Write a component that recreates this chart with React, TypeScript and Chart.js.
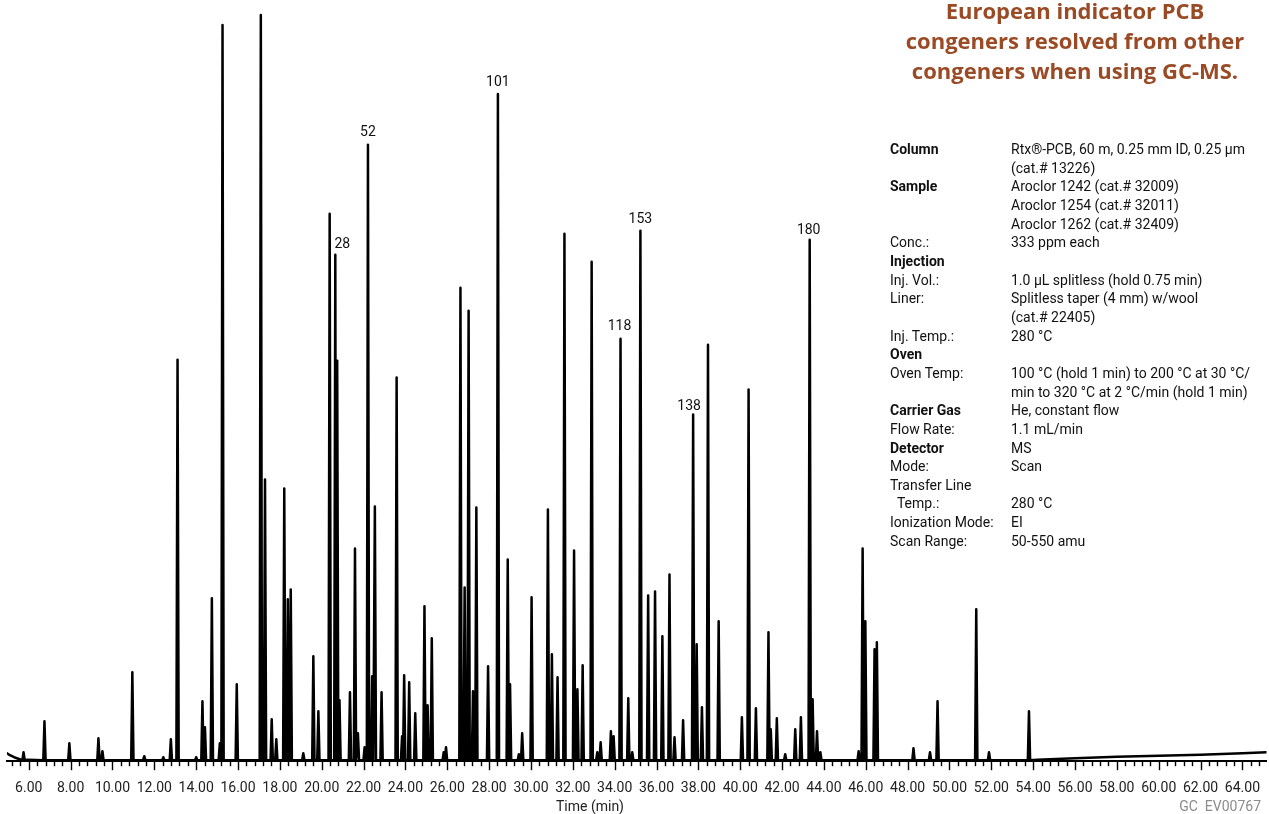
import React, { useEffect, useRef } from 'react';
import { Chart, registerables } from 'chart.js';

Chart.register(...registerables);

// Retention time (min) of each peak apex
const peakTimes = [
  5.75, 6.75, 7.94, 9.33, 9.52, 10.95, 11.52, 12.43, 12.79, 13.11, 14.0, 14.3, 14.42, 14.75, 15.13, 15.26,
  15.94, 17.09, 17.29, 17.61, 17.83, 18.21, 18.38, 18.52, 19.12, 19.6, 19.84, 20.38, 20.65, 20.74, 20.85,
  21.35, 21.59, 21.73, 22.05, 22.21, 22.41, 22.54, 22.86, 23.58, 23.84, 23.94, 24.18, 24.47, 24.91, 25.06,
  25.26, 25.83, 25.94, 26.63, 26.83, 27.02, 27.23, 27.39, 27.95, 28.42, 28.89, 29.0, 29.42, 29.58, 30.03,
  30.81, 31.0, 31.27, 31.6, 32.06, 32.22, 32.47, 32.9, 33.17, 33.33, 33.82, 33.95, 34.28, 34.65, 34.84,
  35.23, 35.6, 35.93, 36.28, 36.62, 36.86, 37.27, 37.75, 37.92, 38.17, 38.46, 38.97, 40.08, 40.4, 40.75,
  41.35, 41.46, 41.75, 42.15, 42.63, 42.9, 43.32, 43.46, 43.67, 43.83, 45.66, 45.85, 45.98, 46.42, 46.53,
  48.28, 49.07, 49.43, 51.28, 51.89, 53.8,
];
// Peak heights (detector response, arbitrary units)
const peakHeights = [
  8, 39, 17, 22, 9, 88, 4, 3, 21, 401, 3, 59, 33, 162, 17, 736,
  76, 746, 281, 41, 21, 272, 161, 171, 7, 104, 49, 547, 506, 400, 60,
  68, 212, 27, 13, 616, 84, 254, 68, 383, 24, 85, 78, 47, 154, 55,
  122, 8, 13, 473, 173, 450, 69, 253, 94, 667, 201, 76, 6, 27, 163,
  251, 106, 83, 527, 210, 71, 95, 499, 8, 18, 29, 24, 422, 62, 8,
  530, 165, 169, 124, 186, 23, 40, 346, 116, 53, 416, 139, 43, 371, 52,
  128, 31, 42, 6, 31, 43, 521, 61, 29, 8, 9, 212, 139, 111, 118,
  12, 8, 59, 151, 8, 49,
];
// Baseline drift (solvent tail at start, column bleed at end)
const baselineTimes = [4.96, 5.1, 5.3, 5.5, 5.95, 54.2, 56.0, 58.0, 60.0, 62.0, 64.0, 65.15];
const baselineLevels = [7, 5, 3, 1.5, 0.5, 0.5, 2, 3.5, 4.5, 5.5, 7, 8];

// Axis tick labels (min)
const majorTicks = [6, 8, 10, 12, 14, 16, 18, 20, 22, 24, 26, 28, 30, 32, 34, 36, 38, 40, 42, 44, 46, 48, 50, 52, 54, 56, 58, 60, 62, 64];

// Labelled congeners
const labelNames = ['28', '52', '101', '118', '153', '138', '180'];
const labelTimes = [20.65, 22.21, 28.42, 34.28, 35.23, 37.75, 43.32];

const infoLeft = [
  'Column', '', 'Sample', '', '', 'Conc.:', 'Injection', 'Inj. Vol.:', 'Liner:', '', 'Inj. Temp.:', 'Oven',
  'Oven Temp:', '', 'Carrier Gas', 'Flow Rate:', 'Detector', 'Mode:', 'Transfer Line', '\u00a0\u00a0Temp.:',
  'Ionization Mode:', 'Scan Range:',
];
const infoRight = [
  'Rtx®-PCB, 60 m, 0.25 mm ID, 0.25 µm', '(cat.# 13226)', 'Aroclor 1242 (cat.# 32009)',
  'Aroclor 1254 (cat.# 32011)', 'Aroclor 1262 (cat.# 32409)', '333 ppm each', '',
  '1.0 µL splitless (hold 0.75 min)', 'Splitless taper (4 mm) w/wool', '(cat.# 22405)', '280 °C', '',
  '100 °C (hold 1 min) to 200 °C at 30 °C/', 'min to 320 °C at 2 °C/min (hold 1 min)', 'He, constant flow',
  '1.1 mL/min', 'MS', 'Scan', '', '280 °C', 'EI', '50-550 amu',
];
const infoBold = ['Column', 'Sample', 'Injection', 'Oven', 'Carrier Gas', 'Detector'];

const labelStyle = {
  dx: [7, 0, 0, -1, 0, -4, -1],
  dy: [10, 12, 11, 12, 11, 8, 9],
};

const W = 0.055;

function buildTrace() {
  const pts: { x: number; y: number }[] = [];
  baselineTimes.forEach((t, i) => pts.push({ x: t, y: baselineLevels[i] }));
  peakTimes.forEach((t, i) => {
    pts.push({ x: t - W, y: 0 });
    pts.push({ x: t, y: peakHeights[i] });
    pts.push({ x: t + W, y: 0 });
  });
  pts.sort((a, b) => a.x - b.x);
  return pts;
}

const overlayPlugin = {
  id: 'overlay',
  afterDraw(chart: any) {
    const ctx = chart.ctx;
    const xs = chart.scales.x;
    const ys = chart.scales.y;
    const bottom = chart.chartArea.bottom;
    ctx.save();
    ctx.strokeStyle = '#000';
    ctx.lineWidth = 1.4;
    for (let k = 13; k <= 162; k++) {
      const t = k * 0.4;
      if (t < xs.min || t > xs.max) continue;
      const px = Math.round(xs.getPixelForValue(t)) + 0.5;
      const major = Math.abs(t / 2 - Math.round(t / 2)) < 1e-6;
      ctx.beginPath();
      ctx.moveTo(px, bottom);
      ctx.lineTo(px, bottom + (major ? 9 : 5));
      ctx.stroke();
    }
    ctx.font = '14px Roboto';
    ctx.fillStyle = '#111';
    ctx.textAlign = 'center';
    ctx.textBaseline = 'middle';
    labelNames.forEach((n, i) => {
      const t = labelTimes[i];
      const idx = peakTimes.indexOf(t);
      const h = peakHeights[idx];
      const px = xs.getPixelForValue(t) + labelStyle.dx[i];
      const py = ys.getPixelForValue(h) - labelStyle.dy[i];
      ctx.fillText(n, px, py);
    });
    ctx.restore();
  },
};

export default function App() {
  const ref = useRef<HTMLCanvasElement>(null);
  useEffect(() => {
    if (!ref.current) return;
    const chart = new Chart(ref.current, {
      type: 'line',
      data: {
        datasets: [
          {
            data: buildTrace(),
            borderColor: '#000',
            borderWidth: 2.5,
            pointRadius: 0,
            tension: 0,
            fill: false,
            borderJoinStyle: 'round',
            borderCapStyle: 'round',
          } as any,
        ],
      },
      options: {
        animation: false,
        responsive: false,
        maintainAspectRatio: false,
        layout: { padding: { left: 7, right: 0, top: 10, bottom: 8 } },
        plugins: { legend: { display: false }, tooltip: { enabled: false } },
        scales: {
          x: {
            type: 'linear',
            min: 4.96,
            max: 65.15,
            afterBuildTicks: (s: any) => {
              s.ticks = majorTicks.map((v) => ({ value: v }));
            },
            ticks: {
              callback: (v: any) => Number(v).toFixed(2),
              font: { family: 'Roboto', size: 14 },
              color: '#222',
              padding: 9,
              maxRotation: 0,
              autoSkip: false,
            },
            grid: { display: false, drawTicks: true, tickLength: 10 },
            border: { display: true, color: '#000', width: 2 },
          },
          y: { display: false, min: -1, max: 751 },
        },
      },
      plugins: [overlayPlugin],
    });
    return () => chart.destroy();
  }, []);

  const rowH = 18.67;
  return (
    <div style={{ position: 'fixed', left: 0, top: 0, width: 1269, height: 814, background: '#fff', overflow: 'hidden' }}>
      <canvas ref={ref} width={1269} height={814} style={{ position: 'absolute', left: 0, top: 0, display: 'block' }} />
      <div
        style={{
          position: 'absolute', left: 875, top: -5, width: 400, textAlign: 'center',
          fontFamily: '"Open Sans", sans-serif', fontWeight: 700, fontSize: 22, lineHeight: '30px', color: '#9a4a24',
        }}
      >
        <div>European indicator PCB</div>
        <div>congeners resolved from other</div>
        <div>congeners when using GC-MS.</div>
      </div>
      <div style={{ position: 'absolute', left: 890, top: 140, fontFamily: 'Roboto, sans-serif', fontSize: 14, color: '#111' }}>
        {infoLeft.map((l, i) => (
          <div key={i} style={{ position: 'relative', height: rowH, lineHeight: rowH + 'px', whiteSpace: 'pre' }}>
            <span style={{ position: 'absolute', left: 0, fontWeight: infoBold.includes(l) ? 700 : 400 }}>{l}</span>
            <span style={{ position: 'absolute', left: 121 }}>{infoRight[i]}</span>
          </div>
        ))}
      </div>
      <div style={{ position: 'absolute', left: 490, top: 797, width: 200, textAlign: 'center', fontFamily: 'Roboto, sans-serif', fontSize: 14, lineHeight: '18px', color: '#222' }}>
        Time (min)
      </div>
      <div style={{ position: 'absolute', right: 8, top: 797, fontFamily: 'Roboto, sans-serif', fontSize: 14, lineHeight: '18px', color: '#8c8c8c', whiteSpace: 'pre' }}>
        GC  EV00767
      </div>
    </div>
  );
}
